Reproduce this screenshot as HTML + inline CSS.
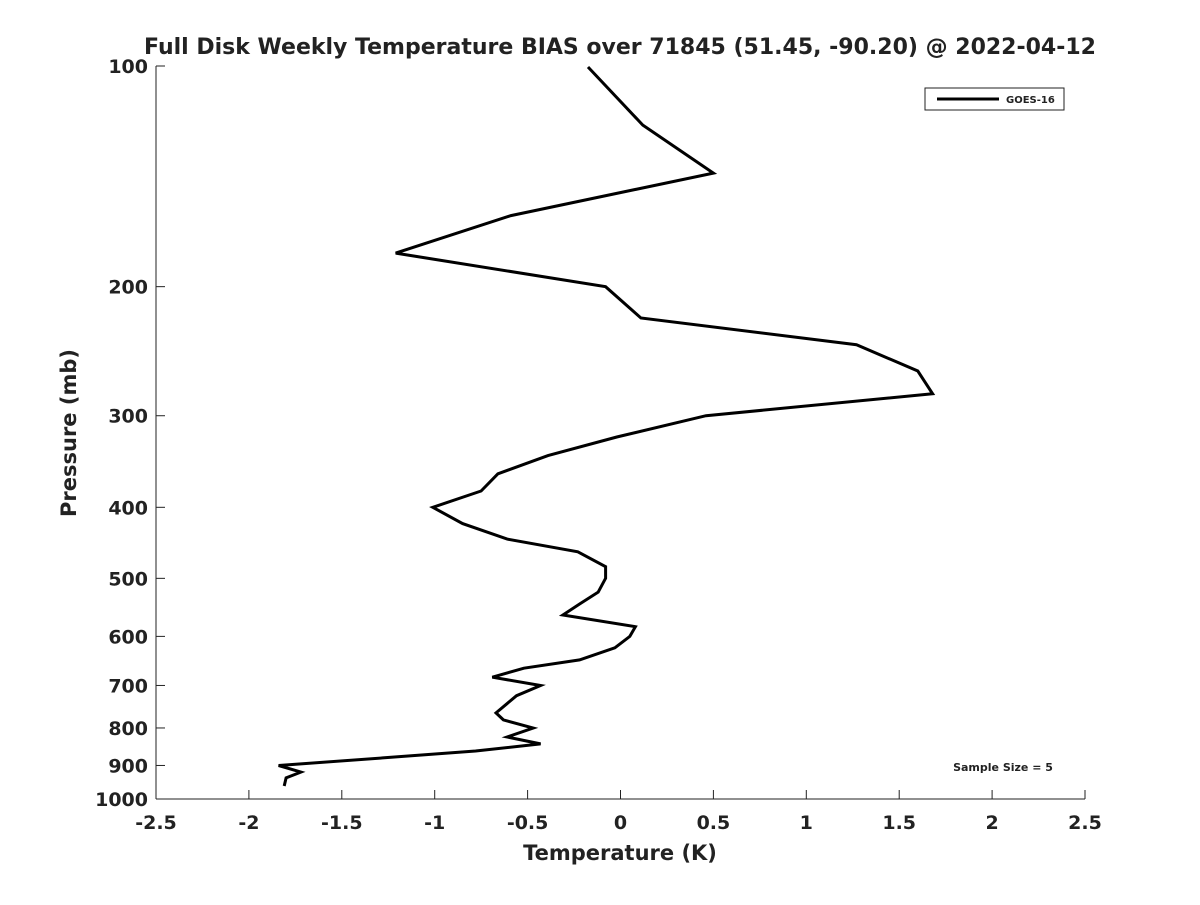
<!DOCTYPE html>
<html><head><meta charset="utf-8"><style>
body{margin:0;background:#fff;}
svg text{font-family:"DejaVu Sans","Liberation Sans",sans-serif;font-weight:bold;fill:#222;}
</style></head><body>
<svg id="chart" width="1200" height="900">
<text x="620" y="54" font-size="22" text-anchor="middle">Full Disk Weekly Temperature BIAS over 71845 (51.45, -90.20) @ 2022-04-12</text>
<g id="axes"></g>
<g id="plot"></g>
<rect x="925" y="88" width="139" height="22" fill="#fff" stroke="#222" stroke-width="1"/>
<line x1="937" y1="99" x2="999" y2="99" stroke="#000" stroke-width="3"/>
<text x="1006" y="103" font-size="10">GOES-16</text>
<text x="1003" y="771" font-size="11" text-anchor="middle">Sample Size = 5</text>
<text x="620" y="860" font-size="21" text-anchor="middle">Temperature (K)</text>
<text transform="translate(76,433) rotate(-90)" font-size="21" text-anchor="middle">Pressure (mb)</text>
</svg>
<script>
const xTicks=[-2.5,-2,-1.5,-1,-0.5,0,0.5,1,1.5,2,2.5];
const xTickLabels=["-2.5","-2","-1.5","-1","-0.5","0","0.5","1","1.5","2","2.5"];
const yTicks=[100,200,300,400,500,600,700,800,900,1000];
const yTickLabels=["100","200","300","400","500","600","700","800","900","1000"];
const pressure=[100.3,120.4,140,160,180,200,220.7,240,260.7,280,300,320.7,340,360,380,400,421,442,460,482,500,522,542,561,582,600,622,646,663,682,700,723,763,780,800,823,841,860,879,900,919,936,960];
const bias=[-0.175,0.12,0.5,-0.59,-1.21,-0.08,0.11,1.27,1.6,1.68,0.46,-0.02,-0.39,-0.66,-0.75,-1.01,-0.85,-0.61,-0.23,-0.08,-0.08,-0.12,-0.22,-0.31,0.08,0.05,-0.03,-0.22,-0.52,-0.69,-0.43,-0.56,-0.67,-0.63,-0.47,-0.61,-0.43,-0.78,-1.28,-1.84,-1.72,-1.80,-1.81];
const NS="http://www.w3.org/2000/svg";
const X0=156,X1=1085,Y0=66,Y1=799;
const xs=v=>X0+(v+2.5)/5*(X1-X0);
const ys=p=>Y0+(Math.log10(p)-2)*(Y1-Y0);
function mk(tag,attrs,parent,txt){const e=document.createElementNS(NS,tag);for(const k in attrs)e.setAttribute(k,attrs[k]);if(txt!==undefined)e.textContent=txt;parent.appendChild(e);return e;}
const ax=document.getElementById('axes');
let e=mk('line',{x1:X0,y1:Y1,x2:X1,y2:Y1,stroke:'#222','stroke-width':1},ax);


e=mk('line',{x1:X0,y1:Y0,x2:X0,y2:Y1,stroke:'#222','stroke-width':1},ax);


xTicks.forEach((v,i)=>{const x=xs(v);
 mk('line',{x1:x,y1:Y1,x2:x,y2:Y1-9,stroke:'#222'},ax);
 const t=mk('text',{x:x,y:Y1+30,'font-size':19,'text-anchor':'middle'},ax,xTickLabels[i]);
 
 });
yTicks.forEach((p,i)=>{const y=ys(p);
 mk('line',{x1:X0,y1:y,x2:X0+9,y2:y,stroke:'#222'},ax);
 const t=mk('text',{x:X0-8,y:y+7,'font-size':19,'text-anchor':'end'},ax,yTickLabels[i]);
 
 });
const pts=pressure.map((p,i)=>xs(bias[i]).toFixed(1)+','+ys(p).toFixed(1)).join(' ');
const pl=mk('polyline',{points:pts,fill:'none',stroke:'#000','stroke-width':3,'stroke-linejoin':'miter'},document.getElementById('plot'));


</script>
</body></html>
